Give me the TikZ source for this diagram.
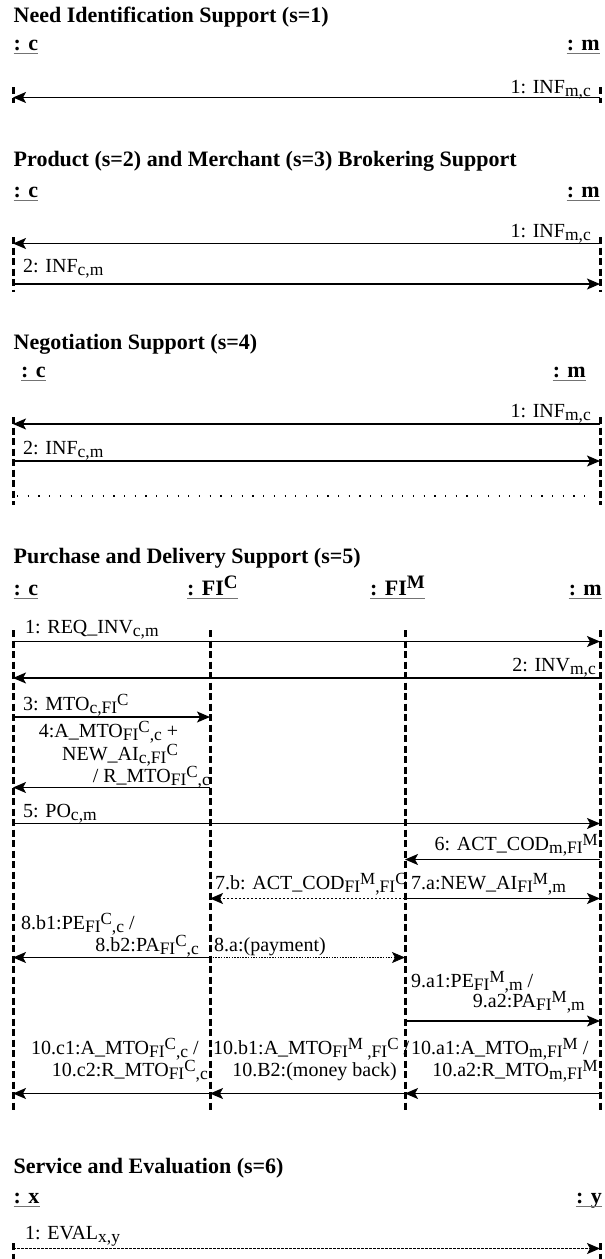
\documentclass[tikz,border=0pt]{standalone}
\usepackage{fontspec}
\setmainfont{Liberation Serif}
\usetikzlibrary{arrows.meta}
\newcommand\sbs[1]{\raisebox{-3pt}{\fontsize{17.5}{17.5}\selectfont #1}}
\newcommand\sps[1]{\raisebox{7.5pt}{\fontsize{17}{17}\selectfont #1}}
\newcommand\hsps[1]{\raisebox{7pt}{\fontsize{19}{19}\selectfont\bfseries #1}}
\tikzset{
  lifeline/.style={line width=3pt, dash pattern=on 7pt off 3.5pt},
  msg/.style={line width=1.4pt, -{Stealth[length=13pt,width=11pt,inset=3pt]}},
  msgdash/.style={msg, dash pattern=on 2.5pt off 1.5pt},
  msgdot/.style={msg, line width=0.8pt, dash pattern=on 1.5pt off 1.2pt},
  sepdots/.style={line width=1.2pt, dash pattern=on 1.2pt off 9.5pt},
  ttl/.style={anchor=base west, inner sep=0pt, font=\fontsize{22}{22}\selectfont\bfseries},
  head/.style={anchor=base west, inner sep=0pt, font=\fontsize{22}{22}\selectfont\bfseries},
  heade/.style={head, anchor=base east},
  lbl/.style={anchor=base west, inner sep=0pt, font=\fontsize{20}{20}\selectfont},
  lble/.style={lbl, anchor=base east},
  uline/.style={line width=1.1pt, draw=black!55}
}
\newcommand\uln[1]{\draw[uline] ([yshift=-3.5pt]#1.base west) -- ([yshift=-3.5pt]#1.base east);}
\begin{document}
\begin{tikzpicture}[x=1pt,y=-1pt]
\useasboundingbox (0,0) rectangle (605,1259);
\fill[white] (0,0) rectangle (605,1259);

% ---------- Section 1 ----------
\node[ttl] (t1) at (13.5,22) {Need Identification Support (s=1)};
\node[head] (h1c) at (13.5,50) {: c};
\node[heade] (h1m) at (600,50) {: m};
\uln{h1c}\uln{h1m}
\coordinate (l1ct) at (13,87); \coordinate (l1cb) at (13,103);
\coordinate (l1mt) at (600,87); \coordinate (l1mb) at (600,103);
\draw[lifeline] (l1ct) -- (l1cb);
\draw[lifeline] (l1mt) -- (l1mb);
\coordinate (m11c) at (13,97.5); \coordinate (m11m) at (600,97.5);
\draw[msg] (m11m) -- (m11c);
\node[lble] (lb11) at (591,93) {1: INF\sbs{m,c}};

% ---------- Section 2 ----------
\node[ttl] (t2) at (13.5,166) {Product (s=2) and Merchant (s=3) Brokering Support};
\node[head] (h2c) at (13.5,197) {: c};
\node[heade] (h2m) at (600,197) {: m};
\uln{h2c}\uln{h2m}
\coordinate (l2ct) at (13,237); \coordinate (l2cb) at (13,292);
\coordinate (l2mt) at (600,237); \coordinate (l2mb) at (600,292);
\draw[lifeline] (l2ct) -- (l2cb);
\draw[lifeline] (l2mt) -- (l2mb);
\coordinate (m21c) at (13,243.5); \coordinate (m21m) at (600,243.5);
\draw[msg] (m21m) -- (m21c);
\node[lble] (lb21) at (591,237) {1: INF\sbs{m,c}};
\coordinate (m22c) at (13,284); \coordinate (m22m) at (600,284);
\draw[msg] (m22c) -- (m22m);
\node[lbl] (lb22) at (23,272) {2: INF\sbs{c,m}};

% ---------- Section 3 ----------
\node[ttl] (t3) at (13.5,349) {Negotiation Support (s=4)};
\node[head] (h3c) at (21,377) {: c};
\node[heade] (h3m) at (586,377) {: m};
\uln{h3c}\uln{h3m}
\coordinate (l3ct) at (13,417); \coordinate (l3cb) at (13,505);
\coordinate (l3mt) at (600,417); \coordinate (l3mb) at (600,505);
\draw[lifeline] (l3ct) -- (l3cb);
\draw[lifeline] (l3mt) -- (l3mb);
\coordinate (m31c) at (13,424); \coordinate (m31m) at (600,424);
\draw[msg] (m31m) -- (m31c);
\node[lble] (lb31) at (591,417) {1: INF\sbs{m,c}};
\coordinate (m32c) at (13,461); \coordinate (m32m) at (600,461);
\draw[msg] (m32c) -- (m32m);
\node[lbl] (lb32) at (23,454) {2: INF\sbs{c,m}};
\coordinate (d3a) at (17,496); \coordinate (d3b) at (594,496);
\draw[sepdots] (d3a) -- (d3b);

% ---------- Section 4 ----------
\node[ttl] (t4) at (13.5,563) {Purchase and Delivery Support (s=5)};
\node[head] (h4c) at (13.5,595) {: c};
\node[head] (h4fc) at (187,595) {: FI\hsps{C}};
\node[head] (h4fm) at (370,595) {: FI\hsps{M}};
\node[heade] (h4m) at (602,595) {: m};
\uln{h4c}\uln{h4fc}\uln{h4fm}\uln{h4m}
\coordinate (l4ct) at (13,630); \coordinate (l4cb) at (13,1113);
\coordinate (l4fct) at (210,630); \coordinate (l4fcb) at (210,1113);
\coordinate (l4fmt) at (405,630); \coordinate (l4fmb) at (405,1113);
\coordinate (l4mt) at (600,630); \coordinate (l4mb) at (600,1113);
\draw[lifeline] (l4ct) -- (l4cb);
\draw[lifeline] (l4fct) -- (l4fcb);
\draw[lifeline] (l4fmt) -- (l4fmb);
\draw[lifeline] (l4mt) -- (l4mb);
% 1
\coordinate (p1c) at (13,641.5); \coordinate (p1m) at (600,641.5);
\draw[msg] (p1c) -- (p1m);
\node[lbl] (lp1) at (25,633) {1: REQ\_INV\sbs{c,m}};
% 2
\coordinate (p2c) at (13,678); \coordinate (p2m) at (600,678);
\draw[msg] (p2m) -- (p2c);
\node[lble] (lp2) at (596,671) {2: INV\sbs{m,c}};
% 3
\coordinate (p3c) at (13,717); \coordinate (p3f) at (210,717);
\draw[msg] (p3c) -- (p3f);
\node[lbl] (lp3) at (23,710) {3: MTO\sbs{c,FI\sps{C}}};
% 4
\coordinate (p4c) at (13,787.5); \coordinate (p4f) at (210,787.5);
\draw[msg] (p4f) -- (p4c);
\node[lbl] (lp4a) at (38.6,737) {4:A\_MTO\sbs{FI\sps{C},c} +};
\node[lbl] (lp4b) at (62,760) {NEW\_AI\sbs{c,FI\sps{C}}};
\node[lbl] (lp4c) at (92.6,782) {/ R\_MTO\sbs{FI\sps{C},c}};
% 5
\coordinate (p5c) at (13,823.5); \coordinate (p5m) at (600,823.5);
\draw[msg] (p5c) -- (p5m);
\node[lbl] (lp5) at (23,817) {5: PO\sbs{c,m}};
% 6
\coordinate (p6m) at (600,859.5); \coordinate (p6f) at (405,859.5);
\draw[msg] (p6m) -- (p6f);
\node[lble] (lp6) at (598,850) {6: ACT\_COD\sbs{m,FI\sps{M}}};
% 7.b / 7.a
\coordinate (p7fm) at (405,898.5); \coordinate (p7fc) at (210,898.5); \coordinate (p7m) at (600,898.5);
\draw[msgdash] (p7fm) -- (p7fc);
\draw[msg] (p7fm) -- (p7m);
\node[lbl] (lp7b) at (215,889) {7.b: ACT\_COD\sbs{FI\sps{M},FI\sps{C}}};
\node[lbl] (lp7a) at (411,889) {7.a:NEW\_AI\sbs{FI\sps{M},m}};
% 8
\coordinate (p8c) at (13,957.5); \coordinate (p8fc) at (210,957.5); \coordinate (p8fm) at (405,957.5);
\draw[msg] (p8fc) -- (p8c);
\draw[msgdot] (p8fc) -- (p8fm);
\node[lbl] (lp8b1) at (21,929) {8.b1:PE\sbs{FI\sps{C},c} /};
\node[lble] (lp8b2) at (199,951) {8.b2:PA\sbs{FI\sps{C},c}};
\node[lbl] (lp8a) at (214,951) {8.a:(payment)};
% 9
\coordinate (p9fm) at (405,1021); \coordinate (p9m) at (600,1021);
\draw[msg] (p9fm) -- (p9m);
\node[lbl] (lp9a1) at (411,987) {9.a1:PE\sbs{FI\sps{M},m} /};
\node[lble] (lp9a2) at (585,1007) {9.a2:PA\sbs{FI\sps{M},m}};
% 10
\coordinate (p10c) at (13,1093.5); \coordinate (p10fc) at (210,1093.5);
\coordinate (p10fm) at (405,1093.5); \coordinate (p10m) at (600,1093.5);
\draw[msg] (p10fc) -- (p10c);
\draw[msg] (p10fm) -- (p10fc);
\draw[msg] (p10m) -- (p10fm);
\node[lbl] (lp10c1) at (31,1054) {10.c1:A\_MTO\sbs{FI\sps{C},c} /};
\node[lble] (lp10c2) at (208,1076) {10.c2:R\_MTO\sbs{FI\sps{C},c}};
\node[lbl] (lp10b1) at (213,1054) {10.b1:A\_MTO\sbs{FI\sps{M} ,FI\sps{C}} /};
\node[lble] (lp10b2) at (397,1076) {10.B2:(money back)};
\node[lbl] (lp10a1) at (411,1054) {10.a1:A\_MTO\sbs{m,FI\sps{M}} /};
\node[lble] (lp10a2) at (598,1076) {10.a2:R\_MTO\sbs{m,FI\sps{M}}};

% ---------- Section 6 ----------
\node[ttl] (t6) at (13.5,1173) {Service and Evaluation (s=6)};
\node[head] (h6x) at (13.5,1203) {: x};
\node[heade] (h6y) at (602,1203) {: y};
\uln{h6x}\uln{h6y}
\coordinate (l6xt) at (13,1243); \coordinate (l6xb) at (13,1259);
\coordinate (l6yt) at (600,1243); \coordinate (l6yb) at (600,1259);
\draw[lifeline] (l6xt) -- (l6xb);
\draw[lifeline] (l6yt) -- (l6yb);
\coordinate (e1x) at (13,1248.5); \coordinate (e1y) at (600,1248.5);
\draw[msgdash] (e1x) -- (e1y);
\node[lbl] (le1) at (25,1239) {1: EVAL\sbs{x,y}};
\end{tikzpicture}
\end{document}
